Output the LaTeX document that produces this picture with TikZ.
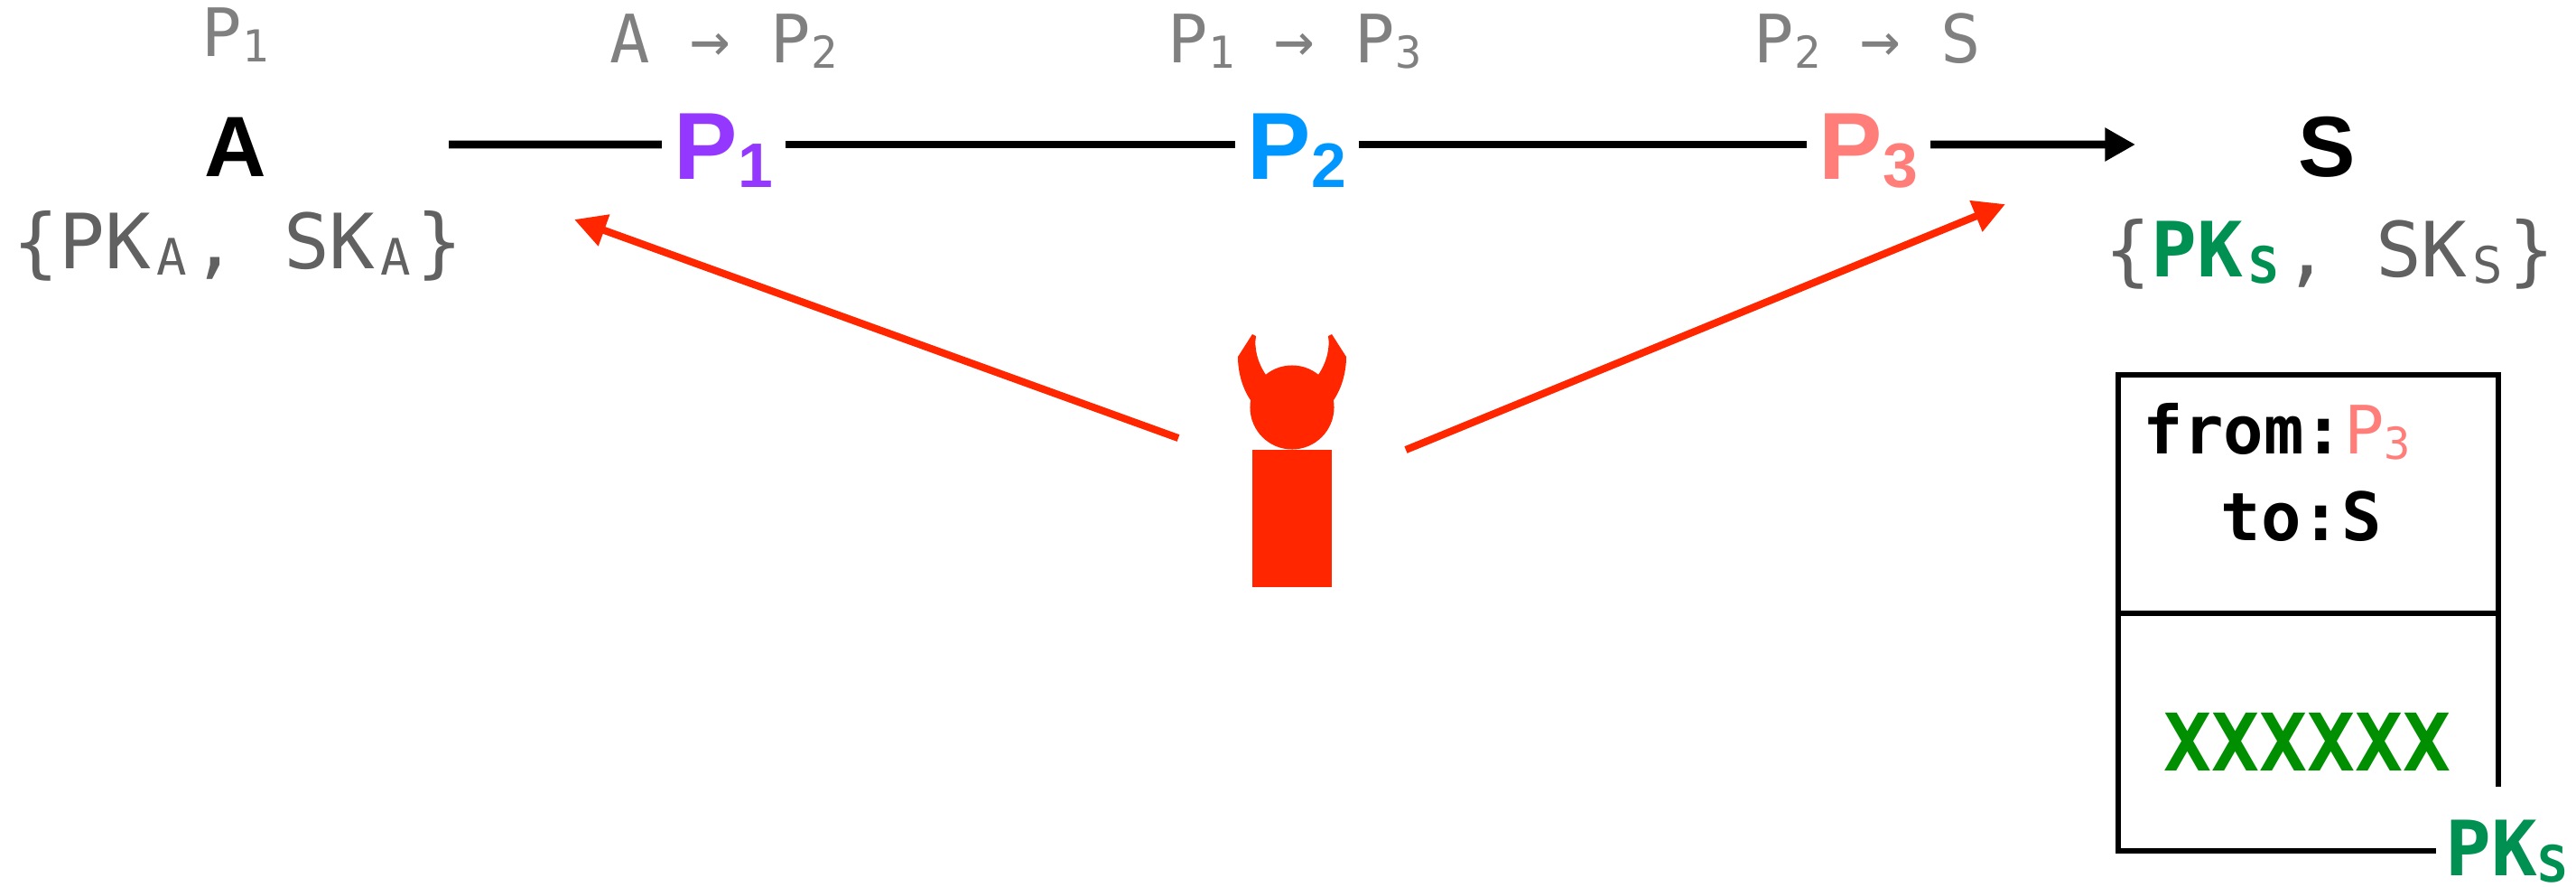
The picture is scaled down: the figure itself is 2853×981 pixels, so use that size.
\documentclass[tikz,border=0pt]{standalone}
\usepackage{fontspec}
\setmainfont{Liberation Sans}
\newfontfamily\monofont{DejaVu Sans Mono}
\usetikzlibrary{arrows.meta}
\definecolor{hopone}{HTML}{9437FF}
\definecolor{hoptwo}{HTML}{0096FF}
\definecolor{hopthree}{HTML}{FF7E79}
\definecolor{keygreen}{HTML}{009051}
\definecolor{msggreen}{HTML}{008F00}
\definecolor{evilred}{HTML}{FF2600}
\newcommand{\lowtxt}[1]{\raisebox{-.085em}{\scalebox{.66}{#1}}}
\newcommand{\lowkey}[1]{\kern.07em\lowtxt{#1}\kern.07em}
\tikzset{
  plain/.style={inner sep=0pt, anchor=base west},
  seen/.style={plain, text=black!50, font=\monofont\fontsize{21}{24}\selectfont},
  keys/.style={plain, text=black!62, font=\monofont\fontsize{24}{28}\selectfont},
  endpt/.style={inner sep=0pt, anchor=base, font=\bfseries\fontsize{27}{32}\selectfont},
  relay/.style={inner ysep=0pt, inner xsep=3.8pt, anchor=base, text height=22pt, text depth=0pt,
    font=\bfseries\fontsize{30}{36}\selectfont},
  header/.style={plain, font=\monofont\bfseries\fontsize{21}{24}\selectfont},
  flow/.style={line width=2.5pt},
  attack/.style={evilred, line width=2.3pt, -{Triangle[length=10pt,width=10pt]}},
  packet/.style={line width=1.6pt},
}
\begin{document}
\begin{tikzpicture}[x=0.01cm,y=-0.01cm]
\useasboundingbox (0,0) rectangle (2853,981);
% who has seen what
\node [seen] (seenA) at (223,62) {P\lowtxt{1}};
\node [seen] (seenB) at (675,69) {A → P\lowtxt{2}};
\node [seen] (seenC) at (1293,69) {P\lowtxt{1} → P\lowtxt{3}};
\node [seen] (seenD) at (1942,69) {P\lowtxt{2} → S};
% the path
\node [endpt] (A) at (261,195) {A};
\node [endpt] (S) at (2577,195) {S};
\node [relay, text=hopone] (P1) at (801.5,198.66) {P\lowtxt{1}};
\node [relay, text=hoptwo] (P2) at (1436.5,198.66) {P\lowtxt{2}};
\node [relay, text=hopthree] (P3) at (2069.5,198.66) {P\lowtxt{3}};
\coordinate (start) at (497,160);
\coordinate (stop) at (2365,160);
\draw [flow] (start) -- (P1);
\draw [flow] (P1) -- (P2);
\draw [flow] (P2) -- (P3);
\draw [flow, -{Triangle[length=9.6pt,width=10pt]}] (P3) -- (stop);
% key pairs
\node [keys] (keysA) at (14,297) {\{PK\lowkey{A}, SK\lowkey{A}\}};
\node [keys] (keysS) at (2331,306) {\{{\bfseries\color{keygreen}PK\lowkey{S}}, SK\lowkey{S}\}};
% the attacker
\fill [evilred] (1387,498) rectangle (1475,650);
\fill [evilred] (1431,451) circle [radius=0.465cm];
\foreach \s in {-1,1} {
  \fill [evilred] ({1431+\s*44},370) -- ({1431+\s*60},395)
    .. controls ({1431+\s*60},412) and ({1431+\s*55},430) .. ({1431+\s*46},443)
    -- (1431,451) -- ({1431+\s*29},415)
    .. controls ({1431+\s*39},400) and ({1431+\s*42},385) .. ({1431+\s*40},372) -- cycle;
}
\coordinate (evilL) at (1305,485);
\coordinate (evilR) at (1557,498);
\coordinate (hitL) at (636,243);
\coordinate (hitR) at (2221,226);
\draw [attack] (evilL) -- (hitL);
\draw [attack] (evilR) -- (hitR);
% the packet
\draw [packet] (2698,942) -- (2346,942) -- (2346,415) -- (2767,415) -- (2767,871);
\draw [packet] (2346,679) -- (2767,679);
\node [header] (from) at (2373,502) {from:{\mdseries\color{hopthree}P\lowtxt{3}}};
\node [header] (to) at (2459,598) {to:S};
\node [plain, text=msggreen, font=\monofont\bfseries\fontsize{25}{28}\selectfont] (body) at (2396,853) {XXXXXX};
\node [plain, text=keygreen, font=\monofont\bfseries\fontsize{24}{28}\selectfont] (seal) at (2708,969) {PK\lowtxt{S}};
\end{tikzpicture}
\end{document}
